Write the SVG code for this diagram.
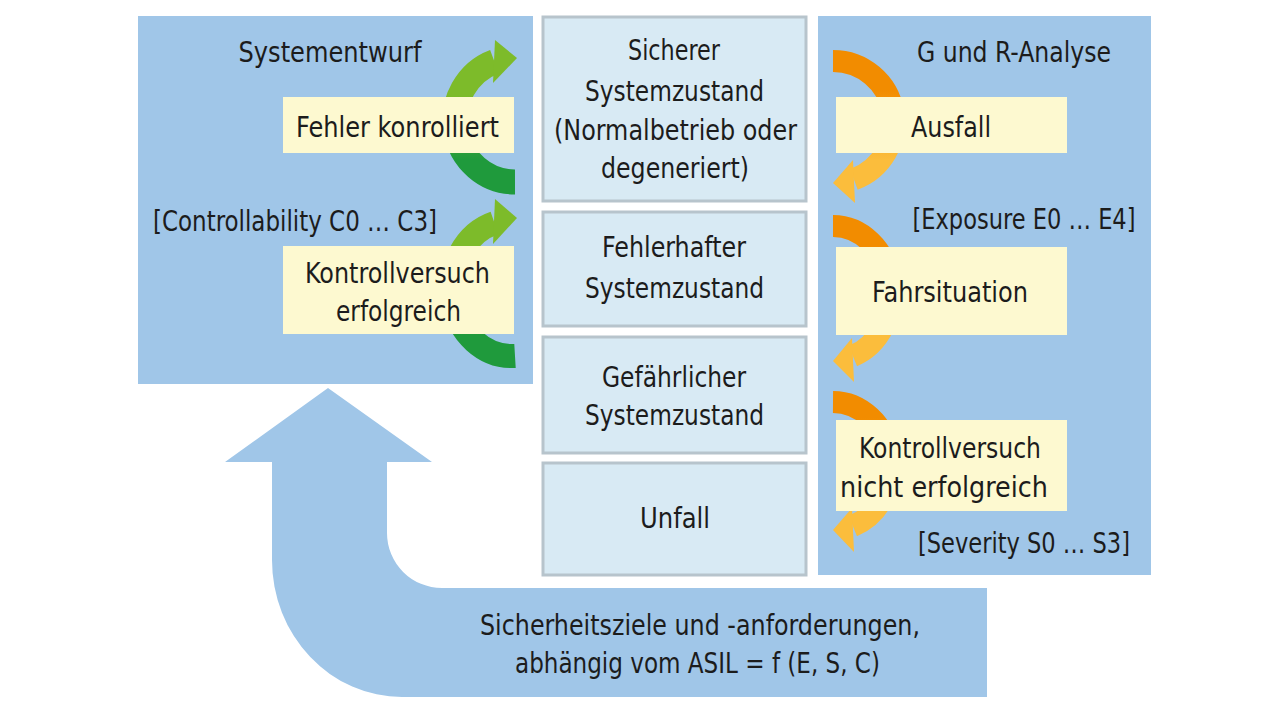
<svg xmlns="http://www.w3.org/2000/svg" width="1280" height="719" viewBox="0 0 1280 719">
<defs>
<style>
.panel{fill:#a0c6e8}
.state{fill:#d8eaf4;stroke:#b7c4cc;stroke-width:3}
.note{fill:#fdf9d0}
text{font-family:"Liberation Sans Narrow","DejaVu Sans Condensed","Liberation Sans",sans-serif;font-size:29px;fill:#1c1c1c;text-anchor:middle}
.g{fill:none;stroke:url(#gGreen1);stroke-width:25}
</style>
<linearGradient id="gGreen1" gradientUnits="userSpaceOnUse" x1="0" y1="95" x2="0" y2="160">
<stop offset="0" stop-color="#7dbb2a"/><stop offset="1" stop-color="#1f9a3c"/></linearGradient>
<linearGradient id="gGreen2" gradientUnits="userSpaceOnUse" x1="0" y1="250" x2="0" y2="335">
<stop offset="0" stop-color="#7dbb2a"/><stop offset="1" stop-color="#1f9a3c"/></linearGradient>
<linearGradient id="gOr1" gradientUnits="userSpaceOnUse" x1="0" y1="90" x2="0" y2="160">
<stop offset="0" stop-color="#f28c00"/><stop offset="1" stop-color="#fbbd3c"/></linearGradient>
<linearGradient id="gOr2" gradientUnits="userSpaceOnUse" x1="0" y1="245" x2="0" y2="335">
<stop offset="0" stop-color="#f28c00"/><stop offset="1" stop-color="#fbbd3c"/></linearGradient>
<linearGradient id="gOr3" gradientUnits="userSpaceOnUse" x1="0" y1="418" x2="0" y2="512">
<stop offset="0" stop-color="#f28c00"/><stop offset="1" stop-color="#fbbd3c"/></linearGradient>
</defs>
<rect width="1280" height="719" fill="#ffffff"/>

<g id="panel-systementwurf">
<rect class="panel" x="138" y="16" width="395" height="368"/>
<text x="330" y="62" textLength="183" lengthAdjust="spacingAndGlyphs">Systementwurf</text>
<text x="295" y="231" textLength="284" lengthAdjust="spacingAndGlyphs">[Controllability C0 … C3]</text>
</g>

<g id="panel-gr-analyse">
<rect class="panel" x="818" y="16" width="333" height="559"/>
<text x="1014" y="62" textLength="194" lengthAdjust="spacingAndGlyphs">G und R-Analyse</text>
<text x="1024" y="229" textLength="223" lengthAdjust="spacingAndGlyphs">[Exposure E0 … E4]</text>
<text x="1024" y="553" textLength="212" lengthAdjust="spacingAndGlyphs">[Severity S0 … S3]</text>
</g>

<g id="connectors">
<path id="feedback" class="panel" d="M328 388 L432 462 L387 462 L387 533 A55 55 0 0 0 442 588 L987 588 L987 697 L402 697 A130 137 0 0 1 272 560 L272 462 L225 462 Z"/>
<path d="M515 182 A60 62 0 0 1 494.5 61.7" fill="none" stroke="url(#gGreen1)" stroke-width="25"/>
<polygon points="495,40 517,58 493,83" fill="#7dbb2a"/>
<path d="M515 356 A60 68 0 0 1 494.5 223" fill="none" stroke="url(#gGreen2)" stroke-width="24"/>
<polygon points="495,199 517,218 493,244" fill="#7dbb2a"/>
<path d="M833 61 A61 61 0 0 1 853.9 179.3" fill="none" stroke="url(#gOr1)" stroke-width="22"/>
<polygon points="853,160 833,183 855,203" fill="#fbbd3c"/>
<path d="M833 226 A58 67 0 0 1 852.8 356" fill="none" stroke="url(#gOr2)" stroke-width="22"/>
<polygon points="852,338 833,361 854,382" fill="#fbbd3c"/>
<path d="M833 402 A58 64 0 0 1 852.8 526" fill="none" stroke="url(#gOr3)" stroke-width="22"/>
<polygon points="852,508 833,530 854,552" fill="#fbbd3c"/>
</g>

<g id="fehler-kontrolliert">
<rect class="note" x="283" y="97" width="231" height="56"/>
<text x="397.5" y="137" textLength="203" lengthAdjust="spacingAndGlyphs">Fehler konrolliert</text>
</g>
<g id="kontrollversuch-erfolgreich">
<rect class="note" x="283" y="246" width="231" height="88"/>
<text x="397.5" y="283" textLength="185" lengthAdjust="spacingAndGlyphs">Kontrollversuch</text>
<text x="398.5" y="321" textLength="125" lengthAdjust="spacingAndGlyphs">erfolgreich</text>
</g>

<g id="sicherer-systemzustand">
<rect class="state" x="543" y="17" width="263" height="184"/>
<text x="674" y="60" textLength="92" lengthAdjust="spacingAndGlyphs">Sicherer</text>
<text x="674.5" y="101" textLength="179" lengthAdjust="spacingAndGlyphs">Systemzustand</text>
<text x="675.5" y="140" textLength="243" lengthAdjust="spacingAndGlyphs">(Normalbetrieb oder</text>
<text x="675" y="178" textLength="148" lengthAdjust="spacingAndGlyphs">degeneriert)</text>
</g>
<g id="fehlerhafter-systemzustand">
<rect class="state" x="543" y="212" width="263" height="114"/>
<text x="674" y="257" textLength="144" lengthAdjust="spacingAndGlyphs">Fehlerhafter</text>
<text x="674.5" y="298" textLength="179" lengthAdjust="spacingAndGlyphs">Systemzustand</text>
</g>
<g id="gefaehrlicher-systemzustand">
<rect class="state" x="543" y="337" width="263" height="116"/>
<text x="674" y="387" textLength="144" lengthAdjust="spacingAndGlyphs">Gefährlicher</text>
<text x="674.5" y="425" textLength="179" lengthAdjust="spacingAndGlyphs">Systemzustand</text>
</g>
<g id="unfall">
<rect class="state" x="543" y="463" width="263" height="112"/>
<text x="675" y="528" textLength="70" lengthAdjust="spacingAndGlyphs">Unfall</text>
</g>

<g id="ausfall">
<rect class="note" x="836" y="97" width="231" height="56"/>
<text x="951" y="137" textLength="80" lengthAdjust="spacingAndGlyphs">Ausfall</text>
</g>
<g id="fahrsituation">
<rect class="note" x="836" y="247" width="231" height="88"/>
<text x="950" y="302" textLength="156" lengthAdjust="spacingAndGlyphs">Fahrsituation</text>
</g>
<g id="kontrollversuch-nicht-erfolgreich">
<rect class="note" x="836" y="420" width="231" height="91"/>
<text x="950" y="458" textLength="182" lengthAdjust="spacingAndGlyphs">Kontrollversuch</text>
<text x="944" y="497" textLength="208" lengthAdjust="spacingAndGlyphs">nicht erfolgreich</text>
</g>

<g id="sicherheitsziele-label">
<text x="700" y="635" textLength="440" lengthAdjust="spacingAndGlyphs">Sicherheitsziele und -anforderungen,</text>
<text x="697.5" y="673" textLength="365" lengthAdjust="spacingAndGlyphs">abhängig vom ASIL = f (E, S, C)</text>
</g>
</svg>
